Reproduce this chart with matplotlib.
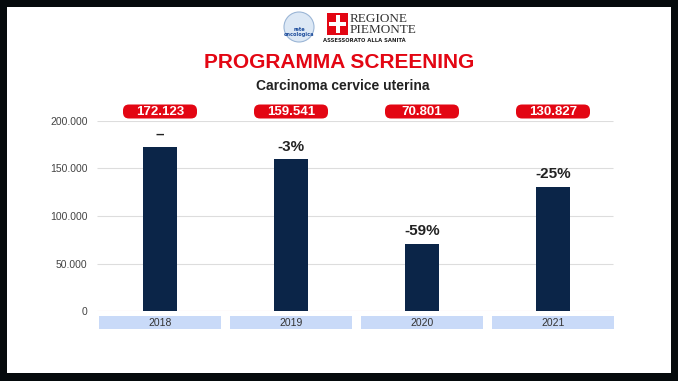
import matplotlib.pyplot as plt
from matplotlib.patches import FancyBboxPatch, Rectangle, Circle

# data
years = ['2018', '2019', '2020', '2021']
screened = [172123, 159541, 70801, 130827]
value_labels = ['172.123', '159.541', '70.801', '130.827']
change_labels = ['–', '-3%', '-59%', '-25%']
y_ticks = [0, 50000, 100000, 150000, 200000]
y_tick_labels = ['0', '50.000', '100.000', '150.000', '200.000']

W, H = 678, 381
NAVY = '#0b2548'
RED = '#e30613'
LIGHTBLUE = '#c9daf8'

fig = plt.figure(figsize=(W / 100, H / 100), dpi=100)
fig.patch.set_facecolor('#050a0c')

# white slide area inside the black frame (pixel coords, top-left origin)
bg = fig.add_axes([0, 0, 1, 1])
bg.set_xlim(0, W)
bg.set_ylim(H, 0)
bg.axis('off')
bg.add_patch(Rectangle((7, 7), 664, 366, facecolor='white', edgecolor='none'))

# logos (rough)
bg.add_patch(Circle((299, 27), 15, facecolor='#dce8f5', edgecolor='#9bb6d6', lw=0.8))
bg.text(299, 32, 'rete\noncologica', ha='center', va='center', fontsize=3.6,
        color='#1f4e9c', fontweight='bold', linespacing=0.8)
bg.add_patch(Rectangle((327, 13), 21, 22, facecolor=RED, edgecolor='none'))
bg.add_patch(Rectangle((335.5, 15), 4, 18, facecolor='white', edgecolor='none'))
bg.add_patch(Rectangle((329, 21.5), 17, 4, facecolor='white', edgecolor='none'))
bg.text(350, 19, 'REGIONE', ha='left', va='center', fontsize=9.5,
        family='Liberation Serif', color='#333333')
bg.text(350, 30, 'PIEMONTE', ha='left', va='center', fontsize=9.5,
        family='Liberation Serif', color='#333333')
bg.text(364, 41, 'ASSESSORATO ALLA SANITÀ', ha='center', va='center', fontsize=3.8,
        fontweight='bold', color='#222222')

# titles
bg.text(339, 62, 'PROGRAMMA SCREENING', ha='center', va='center', fontsize=15,
        fontweight='bold', color=RED, family='Liberation Sans')
bg.text(343, 86, 'Carcinoma cervice uterina', ha='center', va='center', fontsize=10,
        fontweight='bold', color='#222222', family='Liberation Sans')

# chart axes: categories every 131 px starting at 94.5, value 0 at 311 px, 200.000 at 121 px
slot = 131
left = 94.5
ax = fig.add_axes([left / W, 1 - 311 / H, 4 * slot / W, 190 / H])
ax.set_facecolor('none')
xs = range(len(years))
ax.bar(xs, screened, width=0.26, color=NAVY, zorder=3)
ax.set_xlim(-0.5, len(years) - 0.5)
ax.set_ylim(0, 200000)
ax.set_yticks(y_ticks)
ax.set_yticklabels(y_tick_labels, fontsize=7.5, color='#444444', family='Liberation Sans')
ax.tick_params(axis='y', length=0, pad=5)
ax.set_xticks([])
for v in y_ticks[1:]:
    ax.hlines(v, -0.48, 3.46, color='#dddddd', lw=0.8, zorder=1)
ax.hlines(0, -0.48, 3.46, color='#f0c8c0', lw=0.8, zorder=1)
for s in ax.spines.values():
    s.set_visible(False)

for i, (v, cl) in enumerate(zip(screened, change_labels)):
    ax.annotate(cl, (i, v), xytext=(0, 4), textcoords='offset points', ha='center',
                va='bottom', fontsize=11, fontweight='bold', color='#222222',
                family='Liberation Sans')

for i in xs:
    cx = left + slot * (i + 0.5)
    # red value badge above the plot
    bg.add_patch(FancyBboxPatch((cx - 37, 104.5), 74, 14,
                                boxstyle='round,pad=0,rounding_size=6',
                                facecolor=RED, edgecolor='none', zorder=2))
    bg.text(cx, 111.8, value_labels[i], ha='center', va='center', fontsize=9.5,
            fontweight='bold', color='white', family='Liberation Sans', zorder=3)
    # category label box under the plot
    bg.add_patch(Rectangle((cx - 61, 316), 122, 13, facecolor=LIGHTBLUE, edgecolor='none'))
    bg.text(cx, 322.5, years[i], ha='center', va='center', fontsize=7.5, color='#333333',
            family='Liberation Sans')

fig.savefig('out.png', dpi=100, facecolor=fig.get_facecolor())
